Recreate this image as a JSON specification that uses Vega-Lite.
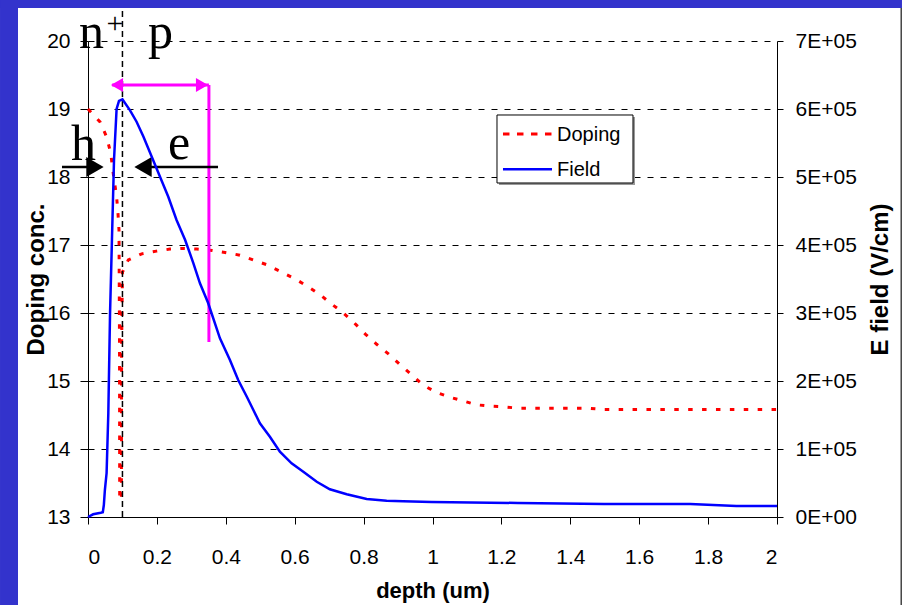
{
  "$schema": "https://vega.github.io/schema/vega-lite/v6.json",
  "width": 689,
  "height": 476,
  "autosize": {"type": "none"},
  "padding": {"left": 88, "top": 41, "right": 125, "bottom": 88},
  "background": "white",
  "config": {
    "view": {"stroke": null},
    "font": "Liberation Sans",
    "axis": {
      "labelFont": "Liberation Sans",
      "titleFont": "Liberation Sans",
      "labelColor": "black",
      "titleColor": "black",
      "domainColor": "black",
      "tickColor": "black",
      "labelFontSize": 21,
      "titleFontSize": 22,
      "titleFontWeight": "bold"
    }
  },
  "datasets": {
    "curves": [
      {"series": "Doping", "depth": 0, "value": 19.0},
      {"series": "Doping", "depth": 0.035, "value": 18.81},
      {"series": "Doping", "depth": 0.054, "value": 18.59},
      {"series": "Doping", "depth": 0.066, "value": 18.35},
      {"series": "Doping", "depth": 0.072, "value": 18.1},
      {"series": "Doping", "depth": 0.083, "value": 17.71},
      {"series": "Doping", "depth": 0.087, "value": 17.47},
      {"series": "Doping", "depth": 0.09, "value": 17.22},
      {"series": "Doping", "depth": 0.0915, "value": 15.5},
      {"series": "Doping", "depth": 0.092, "value": 13.25},
      {"series": "Doping", "depth": 0.097, "value": 13.25},
      {"series": "Doping", "depth": 0.0975, "value": 15.5},
      {"series": "Doping", "depth": 0.1, "value": 16.6},
      {"series": "Doping", "depth": 0.117, "value": 16.78},
      {"series": "Doping", "depth": 0.156, "value": 16.87},
      {"series": "Doping", "depth": 0.199, "value": 16.91},
      {"series": "Doping", "depth": 0.238, "value": 16.94},
      {"series": "Doping", "depth": 0.276, "value": 16.95},
      {"series": "Doping", "depth": 0.316, "value": 16.94},
      {"series": "Doping", "depth": 0.36, "value": 16.92},
      {"series": "Doping", "depth": 0.398, "value": 16.89},
      {"series": "Doping", "depth": 0.441, "value": 16.85},
      {"series": "Doping", "depth": 0.48, "value": 16.78},
      {"series": "Doping", "depth": 0.519, "value": 16.71},
      {"series": "Doping", "depth": 0.559, "value": 16.61},
      {"series": "Doping", "depth": 0.598, "value": 16.51},
      {"series": "Doping", "depth": 0.635, "value": 16.4},
      {"series": "Doping", "depth": 0.671, "value": 16.28},
      {"series": "Doping", "depth": 0.705, "value": 16.14},
      {"series": "Doping", "depth": 0.739, "value": 16.01},
      {"series": "Doping", "depth": 0.772, "value": 15.86},
      {"series": "Doping", "depth": 0.805, "value": 15.69},
      {"series": "Doping", "depth": 0.838, "value": 15.54},
      {"series": "Doping", "depth": 0.872, "value": 15.4},
      {"series": "Doping", "depth": 0.906, "value": 15.24},
      {"series": "Doping", "depth": 0.94, "value": 15.09},
      {"series": "Doping", "depth": 0.973, "value": 14.94},
      {"series": "Doping", "depth": 1.012, "value": 14.83},
      {"series": "Doping", "depth": 1.051, "value": 14.76},
      {"series": "Doping", "depth": 1.087, "value": 14.71},
      {"series": "Doping", "depth": 1.128, "value": 14.65},
      {"series": "Doping", "depth": 1.167, "value": 14.63},
      {"series": "Doping", "depth": 1.206, "value": 14.62},
      {"series": "Doping", "depth": 1.249, "value": 14.6},
      {"series": "Doping", "depth": 1.35, "value": 14.6},
      {"series": "Doping", "depth": 1.45, "value": 14.6},
      {"series": "Doping", "depth": 1.5, "value": 14.58},
      {"series": "Doping", "depth": 1.75, "value": 14.58},
      {"series": "Doping", "depth": 2.0, "value": 14.58},
      {"series": "Field", "depth": 0, "value": 0},
      {"series": "Field", "depth": 0.015, "value": 4000},
      {"series": "Field", "depth": 0.037, "value": 6300},
      {"series": "Field", "depth": 0.043, "value": 7000},
      {"series": "Field", "depth": 0.046, "value": 17600},
      {"series": "Field", "depth": 0.049, "value": 39700},
      {"series": "Field", "depth": 0.054, "value": 64700},
      {"series": "Field", "depth": 0.059, "value": 152900},
      {"series": "Field", "depth": 0.064, "value": 300000},
      {"series": "Field", "depth": 0.069, "value": 397500},
      {"series": "Field", "depth": 0.0755, "value": 525000},
      {"series": "Field", "depth": 0.083, "value": 600000},
      {"series": "Field", "depth": 0.09, "value": 612000},
      {"series": "Field", "depth": 0.1, "value": 614300},
      {"series": "Field", "depth": 0.122, "value": 598000},
      {"series": "Field", "depth": 0.141, "value": 581300},
      {"series": "Field", "depth": 0.161, "value": 559300},
      {"series": "Field", "depth": 0.185, "value": 529800},
      {"series": "Field", "depth": 0.209, "value": 500400},
      {"series": "Field", "depth": 0.233, "value": 471000},
      {"series": "Field", "depth": 0.257, "value": 436800},
      {"series": "Field", "depth": 0.282, "value": 407400},
      {"series": "Field", "depth": 0.306, "value": 373100},
      {"series": "Field", "depth": 0.325, "value": 343700},
      {"series": "Field", "depth": 0.349, "value": 314300},
      {"series": "Field", "depth": 0.383, "value": 262800},
      {"series": "Field", "depth": 0.412, "value": 230900},
      {"series": "Field", "depth": 0.436, "value": 201500},
      {"series": "Field", "depth": 0.461, "value": 176900},
      {"series": "Field", "depth": 0.48, "value": 157400},
      {"series": "Field", "depth": 0.499, "value": 137800},
      {"series": "Field", "depth": 0.528, "value": 118100},
      {"series": "Field", "depth": 0.557, "value": 96000},
      {"series": "Field", "depth": 0.591, "value": 78900},
      {"series": "Field", "depth": 0.625, "value": 66600},
      {"series": "Field", "depth": 0.664, "value": 51900},
      {"series": "Field", "depth": 0.702, "value": 40700},
      {"series": "Field", "depth": 0.751, "value": 33400},
      {"series": "Field", "depth": 0.809, "value": 26500},
      {"series": "Field", "depth": 0.867, "value": 24000},
      {"series": "Field", "depth": 0.915, "value": 23100},
      {"series": "Field", "depth": 0.997, "value": 22100},
      {"series": "Field", "depth": 1.248, "value": 20600},
      {"series": "Field", "depth": 1.498, "value": 19100},
      {"series": "Field", "depth": 1.748, "value": 19100},
      {"series": "Field", "depth": 1.882, "value": 16200},
      {"series": "Field", "depth": 2.0, "value": 16200}
    ]
  },
  "layer": [
    {
      "layer": [
        {
          "data": {"values": [{}]},
          "mark": {"type": "rect", "color": "#3333cc"},
          "encoding": {"x": {"datum": -0.2554}, "x2": {"datum": -0.2032}, "y": {"datum": 11.7}, "y2": {"datum": 20.61}}
        },
        {
          "data": {"values": [{}]},
          "mark": {"type": "rect", "color": "#3333cc"},
          "encoding": {"x": {"datum": -0.2554}, "x2": {"datum": 2.3628}, "y": {"datum": 20.485}, "y2": {"datum": 20.61}}
        },
        {
          "data": {"values": [{}]},
          "mark": {"type": "rule", "color": "#444444", "strokeWidth": 1.5},
          "encoding": {"x": {"datum": 2.3606}, "y": {"datum": 11.7}, "y2": {"datum": 20.485}}
        },
        {
          "data": {"name": "curves"},
          "transform": [{"filter": "datum.series == 'Doping'"}],
          "mark": {"type": "line", "color": "#ff0000", "strokeWidth": 3, "strokeDash": [4.5, 9.4]},
          "encoding": {
            "x": {
              "field": "depth", "type": "quantitative",
              "scale": {"domain": [0, 2], "nice": false, "zero": false},
              "axis": {
                "title": "depth (um)",
                "values": [0, 0.2, 0.4, 0.6, 0.8, 1, 1.2, 1.4, 1.6, 1.8, 2],
                "format": "~g",
                "tickSize": 7,
                "labelPadding": 22,
                "titlePadding": 13,
                "grid": false
              }
            },
            "y": {
              "field": "value", "type": "quantitative",
              "scale": {"domain": [13, 20], "nice": false, "zero": false},
              "axis": {
                "title": "Doping conc.",
                "orient": "left",
                "values": [13, 14, 15, 16, 17, 18, 19, 20],
                "format": "d",
                "tickSize": 8,
                "labelPadding": 10,
                "titleFontSize": 24,
                "titlePadding": -2,
                "grid": true,
                "gridColor": "black",
                "gridDash": [6, 7],
                "gridWidth": 1,
                "gridOpacity": 1
              }
            }
          }
        },
        {
          "data": {"values": [{}]},
          "mark": {"type": "rule", "color": "black", "strokeWidth": 1.5, "strokeDash": [6, 4]},
          "encoding": {"x": {"datum": 0.1}, "y": {"datum": 13}, "y2": {"datum": 20.485}}
        },
        {
          "data": {"values": [{}]},
          "mark": {"type": "rule", "color": "#ff00ff", "strokeWidth": 3},
          "encoding": {"x": {"datum": 0.07}, "x2": {"datum": 0.351}, "y": {"datum": 19.353}}
        },
        {
          "data": {"values": [{}]},
          "mark": {"type": "rule", "color": "#ff00ff", "strokeWidth": 3},
          "encoding": {"x": {"datum": 0.351}, "y": {"datum": 19.353}, "y2": {"datum": 15.574}}
        },
        {
          "data": {"values": [{}]},
          "mark": {"type": "point", "shape": "triangle-left", "filled": true, "color": "#ff00ff", "size": 196, "opacity": 1},
          "encoding": {"x": {"datum": 0.0842}, "y": {"datum": 19.353}}
        },
        {
          "data": {"values": [{}]},
          "mark": {"type": "point", "shape": "triangle-right", "filled": true, "color": "#ff00ff", "size": 196, "opacity": 1},
          "encoding": {"x": {"datum": 0.3309}, "y": {"datum": 19.353}}
        },
        {
          "data": {"values": [{}]},
          "mark": {"type": "rule", "color": "black", "strokeWidth": 2.5},
          "encoding": {"x": {"datum": -0.0755}, "x2": {"datum": 0.03}, "y": {"datum": 18.147}}
        },
        {
          "data": {"values": [{}]},
          "mark": {"type": "point", "shape": "triangle-right", "filled": true, "color": "black", "size": 400, "opacity": 1},
          "encoding": {"x": {"datum": 0.0203}, "y": {"datum": 18.147}}
        },
        {
          "data": {"values": [{}]},
          "mark": {"type": "rule", "color": "black", "strokeWidth": 2.5},
          "encoding": {"x": {"datum": 0.3774}, "x2": {"datum": 0.15}, "y": {"datum": 18.147}}
        },
        {
          "data": {"values": [{}]},
          "mark": {"type": "point", "shape": "triangle-left", "filled": true, "color": "black", "size": 400, "opacity": 1},
          "encoding": {"x": {"datum": 0.1597}, "y": {"datum": 18.147}}
        },
        {
          "data": {"values": [{}]},
          "mark": {"type": "text", "text": "n", "font": "Liberation Serif", "fontSize": 50, "align": "left", "baseline": "alphabetic", "color": "black"},
          "encoding": {"x": {"datum": -0.026}, "y": {"datum": 19.897}}
        },
        {
          "data": {"values": [{}]},
          "mark": {"type": "text", "text": "+", "font": "Liberation Serif", "fontSize": 30, "align": "center", "baseline": "alphabetic", "color": "black"},
          "encoding": {"x": {"datum": 0.0784}, "y": {"datum": 20.12}}
        },
        {
          "data": {"values": [{}]},
          "mark": {"type": "text", "text": "p", "font": "Liberation Serif", "fontSize": 50, "align": "left", "baseline": "alphabetic", "color": "black"},
          "encoding": {"x": {"datum": 0.174}, "y": {"datum": 19.897}}
        },
        {
          "data": {"values": [{}]},
          "mark": {"type": "text", "text": "h", "font": "Liberation Serif", "fontSize": 50, "align": "left", "baseline": "alphabetic", "color": "black"},
          "encoding": {"x": {"datum": -0.049}, "y": {"datum": 18.25}}
        },
        {
          "data": {"values": [{}]},
          "mark": {"type": "text", "text": "e", "font": "Liberation Serif", "fontSize": 50, "align": "left", "baseline": "alphabetic", "color": "black"},
          "encoding": {"x": {"datum": 0.232}, "y": {"datum": 18.265}}
        },
        {
          "data": {"values": [{}]},
          "mark": {"type": "rect", "color": "#999999"},
          "encoding": {"x": {"datum": 1.193}, "x2": {"datum": 1.5878}, "y": {"datum": 18.8824}, "y2": {"datum": 17.8824}}
        },
        {
          "data": {"values": [{}]},
          "mark": {"type": "rect", "fill": "white", "stroke": "black", "strokeWidth": 1},
          "encoding": {"x": {"datum": 1.1872}, "x2": {"datum": 1.582}, "y": {"datum": 18.9118}, "y2": {"datum": 17.9118}}
        },
        {
          "data": {"values": [{}]},
          "mark": {"type": "rule", "color": "#ff0000", "strokeWidth": 3, "strokeDash": [6.5, 7.5]},
          "encoding": {"x": {"datum": 1.2046}, "x2": {"datum": 1.3469}, "y": {"datum": 18.632}}
        },
        {
          "data": {"values": [{}]},
          "mark": {"type": "rule", "color": "#0000ff", "strokeWidth": 2.5},
          "encoding": {"x": {"datum": 1.2046}, "x2": {"datum": 1.3469}, "y": {"datum": 18.113}}
        },
        {
          "data": {"values": [{}]},
          "mark": {"type": "text", "text": "Doping", "font": "Liberation Sans", "fontSize": 20, "align": "left", "baseline": "alphabetic", "color": "black"},
          "encoding": {"x": {"datum": 1.3614}, "y": {"datum": 18.529}}
        },
        {
          "data": {"values": [{}]},
          "mark": {"type": "text", "text": "Field", "font": "Liberation Sans", "fontSize": 20, "align": "left", "baseline": "alphabetic", "color": "black"},
          "encoding": {"x": {"datum": 1.3614}, "y": {"datum": 18.015}}
        }
      ]
    },
    {
      "data": {"name": "curves"},
      "transform": [{"filter": "datum.series == 'Field'"}],
      "mark": {"type": "line", "color": "#0000ff", "strokeWidth": 2.5},
      "encoding": {
        "x": {"field": "depth", "type": "quantitative"},
        "y": {
          "field": "value", "type": "quantitative",
          "scale": {"domain": [0, 700000], "nice": false, "zero": true},
          "axis": {
            "title": "E field (V/cm)",
            "orient": "right",
            "values": [0, 100000, 200000, 300000, 400000, 500000, 600000, 700000],
            "labelExpr": "datum.value == 0 ? '0E+00' : format(datum.value / 100000, 'd') + 'E+05'",
            "tickSize": 6,
            "labelPadding": 12,
            "titleFontSize": 24,
            "titleAngle": 270,
            "titleBaseline": "top",
            "titlePadding": 12,
            "grid": false
          }
        }
      }
    }
  ],
  "resolve": {"scale": {"y": "independent"}}
}
